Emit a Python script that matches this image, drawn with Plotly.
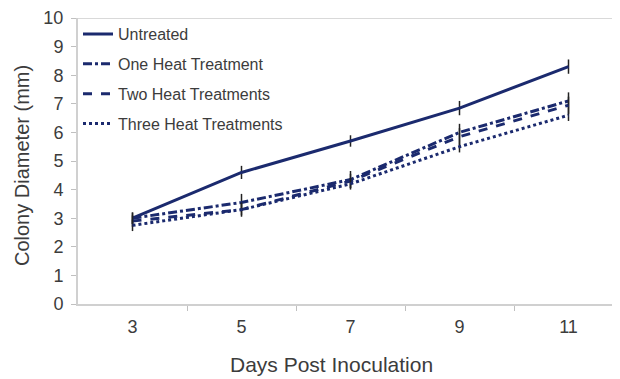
import plotly.graph_objects as go

days = [3, 5, 7, 9, 11]
untreated = [3.0, 4.6, 5.7, 6.85, 8.3]
one_heat = [3.0, 3.55, 4.35, 6.0, 7.1]
two_heat = [2.9, 3.3, 4.3, 5.85, 6.95]
three_heat = [2.75, 3.3, 4.2, 5.5, 6.6]
err_untreated = [0.2, 0.23, 0.2, 0.25, 0.25]
err_one = [0.2, 0.3, 0.3, 0.3, 0.3]
err_two = [0.2, 0.25, 0.25, 0.3, 0.3]
err_three = [0.2, 0.2, 0.2, 0.2, 0.2]
y_ticks = list(range(0, 11))
x_minor_ticks = [4, 6, 8, 10]

navy = "#1b2a6e"
text_col = "#3c3c3c"
series = [
    ("Untreated", untreated, err_untreated, "solid"),
    ("One Heat Treatment", one_heat, err_one, "dashdot"),
    ("Two Heat Treatments", two_heat, err_two, "dash"),
    ("Three Heat Treatments", three_heat, err_three, "dot"),
]

fig = go.Figure()
for i, (name, vals, err, dash) in enumerate(series):
    fig.add_trace(go.Scatter(
        x=days, y=vals, name=name, mode="lines", legendgroup=f"g{i}",
        line=dict(color=navy, width=3, dash=dash),
        error_y=dict(type="data", array=err, color="#222222", thickness=1.5, width=0),
    ))

fig.add_shape(type="line", xref="paper", yref="y", x0=0, x1=1, y0=10, y1=10,
              line=dict(color="#d9d9d9", width=2), layer="below")

fig.update_layout(
    width=612, height=371,
    margin=dict(l=70, r=0, t=8, b=75),
    plot_bgcolor="white", paper_bgcolor="white",
    font=dict(family="Liberation Sans, Arial, sans-serif", color=text_col),
    showlegend=True,
    legend=dict(x=0.0, y=1.003, xanchor="left", yanchor="top",
                bgcolor="rgba(0,0,0,0)", font=dict(size=16, color=text_col),
                tracegroupgap=6, itemwidth=30, traceorder="grouped"),
    xaxis=dict(range=[2, 11.945], tickvals=days, ticktext=[str(d) for d in days],
               ticks="", showgrid=False, zeroline=False,
               showline=True, linecolor="#d0d0d0", linewidth=2,
               tickfont=dict(size=18, color=text_col), ticklabelstandoff=5,
               minor=dict(tickvals=x_minor_ticks, ticks="outside", ticklen=5,
                          tickcolor="#c0c0c0", showgrid=False)),
    yaxis=dict(range=[0, 10], tickvals=y_ticks, ticks="outside", ticklen=5,
               tickcolor="#c0c0c0", showgrid=False, zeroline=False,
               showline=True, linecolor="#d0d0d0", linewidth=2,
               tickfont=dict(size=18, color=text_col), ticklabelstandoff=4,
               ticklabeloverflow="allow"),
)

fig.add_annotation(text="Days Post Inoculation", xref="paper", yref="paper",
                   x=0.467, y=-0.212, xanchor="center", yanchor="middle",
                   showarrow=False, font=dict(size=21, color=text_col))
fig.add_annotation(text="Colony Diameter (mm)", xref="paper", yref="paper",
                   x=-0.103, y=0.483, xanchor="center", yanchor="middle", textangle=-90,
                   showarrow=False, font=dict(size=20, color=text_col))

fig.write_html("out.html")
